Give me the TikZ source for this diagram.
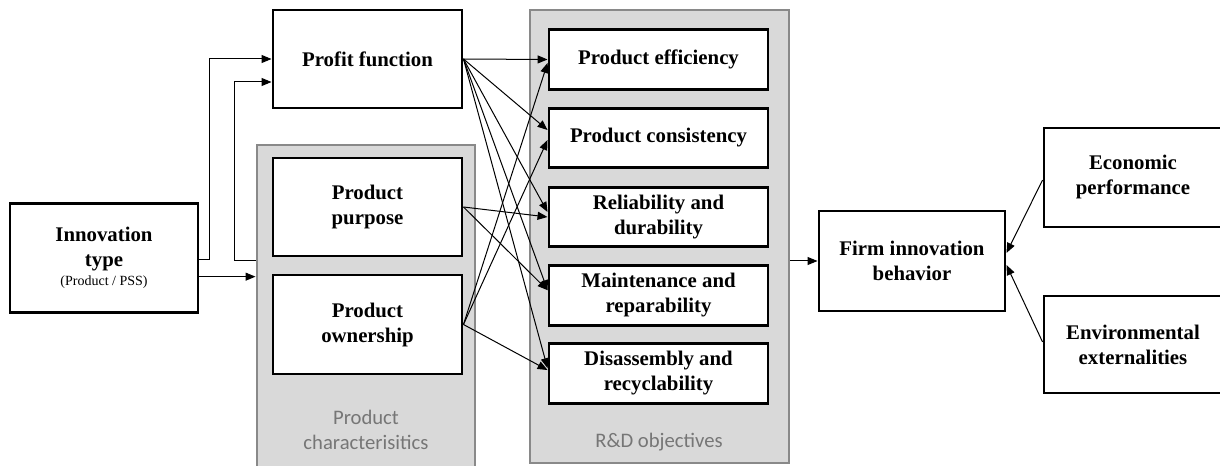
\documentclass[tikz,border=0pt]{standalone}
\usepackage{fontspec}
\setmainfont{Liberation Serif}
\newfontfamily\grpfont{Carlito}
\usetikzlibrary{arrows.meta}

\definecolor{grpfill}{RGB}{217,217,217}
\definecolor{grpline}{RGB}{137,137,137}
\definecolor{grptext}{RGB}{118,118,118}

\tikzset{
  box/.style={draw=black, line width=2.2pt, fill=white, align=center, inner sep=0pt,
    font=\bfseries\fontsize{15.6}{18.75}\selectfont},
  objbox/.style={box, minimum width=164.25pt, minimum height=44.5pt},
  grp/.style={draw=grpline, line width=2.2pt, fill=grpfill, inner sep=0pt},
  grplabel/.style={text=grptext, align=center, font=\grpfont\fontsize{15.5}{18.75}\selectfont},
  arr/.style={line width=0.75pt, -{Triangle[length=7.5pt,width=6pt]}},
}

\begin{document}
\begin{tikzpicture}[x=0.75pt,y=0.75pt,yscale=-1,xscale=1]
\useasboundingbox (0,0) rectangle (1220,466);
\clip (0,0) rectangle (1220,466);

%Shape: group boxes
\node[grp, minimum width=163.5pt, minimum height=247.5pt] (chars) at (366,310) {};
\node[grp, minimum width=194.25pt, minimum height=339.75pt] (rd) at (659.5,236.5) {};
% Text Node
\node[grplabel] (charslabel) at (366,430) {Product\\characterisitics};
% Text Node
\node[grplabel] (rdlabel) at (659,442) {R\&D objectives};

%Shape: boxes
\node[box, minimum width=141pt, minimum height=81.75pt] (innov) at (104,258)
  {Innovation\\type\\[-4.5pt]{\normalfont\fontsize{10.5}{13}\selectfont (Product / PSS)}};
\node[box, minimum width=141.75pt, minimum height=73.5pt] (profit) at (367.5,59) {Profit function};
\node[box, minimum width=141.75pt, minimum height=73.5pt] (purpose) at (367.5,207) {Product\\purpose};
\node[box, minimum width=141.75pt, minimum height=74.25pt] (owner) at (367.5,324.5) {Product\\ownership};

\node[objbox] (effic) at (658.5,59.5) {Product efficiency};
\node[objbox] (consis) at (658.5,138) {Product consistency};
\node[objbox] (reliab) at (658.5,217) {Reliability and\\durability};
\node[objbox] (maint) at (658.5,295.5) {Maintenance and\\reparability};
\node[objbox] (disas) at (658.5,373.5) {Disassembly and\\recyclability};

\node[box, minimum width=139.5pt, minimum height=75pt] (firm) at (912,261) {Firm innovation\\behavior};
\node[box, minimum width=133.5pt, minimum height=74.25pt] (econ) at (1133,177.5) {Economic\\performance};
\node[box, minimum width=133.5pt, minimum height=72.75pt] (envir) at (1133,344.5) {Environmental\\externalities};

%Straight Lines: innovation type
\coordinate (split) at ([yshift=14pt]innov.east);
\draw[arr] ([yshift=1pt]innov.east) -- ++(10,0) |- (profit.west);
\draw[arr] ([yshift=-36.75pt]chars.west) -- ++(-21,0) |- ([yshift=17.25pt]profit.west);
\draw[arr] (split) -- (split -| chars.west);

%Straight Lines: profit function
\draw[arr] (profit.east) -- (effic.west);
\draw[arr] (profit.east) -- ([yshift=-6pt]consis.west);
\draw[arr] (profit.east) -- ([yshift=-3.75pt]reliab.west);
\draw[arr] (profit.east) -- ([yshift=-4pt]maint.west);
\draw[arr] (profit.east) -- ([yshift=-4pt]disas.west);

%Straight Lines: product characteristics
\draw[arr] (purpose.east) -- (reliab.west);
\draw[arr] (purpose.east) -- ([yshift=-4pt]maint.west);
\draw[arr] (owner.east) -- ([yshift=2.6pt]effic.west);
\draw[arr] (owner.east) -- ([yshift=1.5pt]consis.west);
\draw[arr] (owner.east) -- ([yshift=-2.6pt]disas.west);

%Straight Lines: firm behaviour
\draw[arr] (rd.east |- firm.west) -- (firm.west);
\draw[arr] ([yshift=1.9pt]econ.west) -- ([yshift=-6pt]firm.east);
\draw[arr] ([yshift=-1.9pt]envir.west) -- ([yshift=3pt]firm.east);

\end{tikzpicture}
\end{document}
